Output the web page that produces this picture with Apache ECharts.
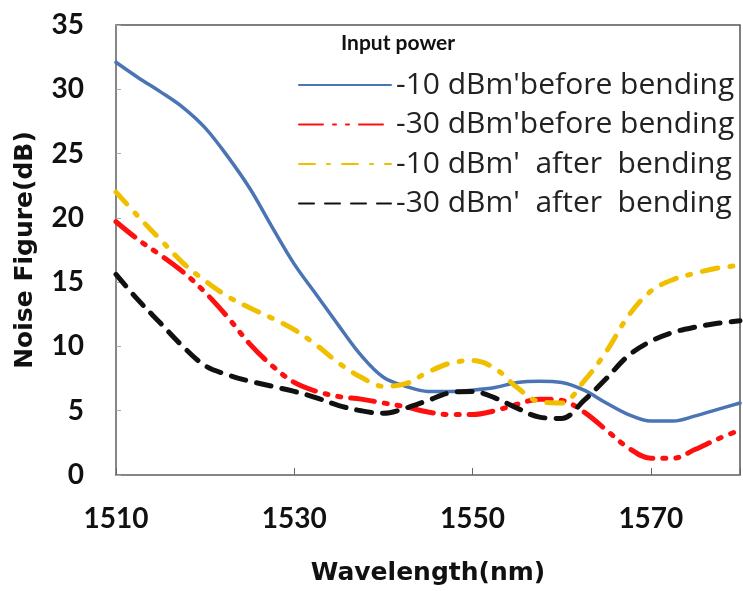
<!DOCTYPE html>
<html><head><meta charset="utf-8">
<script src="https://cdn.jsdelivr.net/npm/echarts@6/dist/echarts.min.js"></script>
<style>html,body{margin:0;padding:0;background:#fff}#c{width:743px;height:591px}</style>
</head><body><div id="c"></div>
<script>
var wavelengths = [1510,1512.5,1515,1517.5,1520,1522.5,1525,1527.5,1530,1532.5,1535,1537.5,1540,1542.5,1545,1547.5,1550,1552.5,1555,1557.5,1560,1562.5,1565,1567.5,1570,1572.5,1575,1577.5,1580];
var m10Before = [32.1,30.9,29.8,28.6,27.0,24.8,22.3,19.3,16.4,14.0,11.6,9.3,7.6,6.9,6.5,6.5,6.6,6.8,7.2,7.3,7.2,6.6,5.6,4.7,4.2,4.2,4.6,5.1,5.6];
var m30Before = [19.7,18.3,17.1,15.8,14.2,12.3,10.2,8.5,7.2,6.5,6.1,5.9,5.6,5.3,4.9,4.7,4.7,5.0,5.5,5.9,5.8,4.9,3.5,2.1,1.3,1.3,2.0,2.8,3.5];
var m10After = [22.0,20.1,18.3,16.5,15.1,13.9,13.0,12.2,11.3,10.1,8.7,7.6,6.9,7.1,8.0,8.7,8.9,8.3,6.8,5.7,5.6,7.3,9.6,12.4,14.3,15.2,15.7,16.1,16.3];
var m30After = [15.6,13.6,11.8,10.0,8.5,7.8,7.3,6.9,6.5,6.0,5.4,5.0,4.8,5.2,5.8,6.4,6.5,6.0,5.2,4.5,4.4,5.8,7.5,9.3,10.4,11.1,11.5,11.8,12.0];
var seriesNames = ["-10 dBm'before bending","-30 dBm'before bending","-10 dBm'  after  bending","-30 dBm'  after  bending"];
var legendTitle = "Input power";
var xTitle = "Wavelength(nm)";
var yTitle = "Noise Figure(dB)";

function pairs(v){ return wavelengths.map(function(x,i){ return [x, v[i]]; }); }
var chart = echarts.init(document.getElementById('c'), null, {renderer:'canvas'});
var styles = [
  {color:'#4a74b4', width:3.5, type:'solid'},
  {color:'#ff1010', width:5, type:[24,10,3,10,3,10]},
  {color:'#f0c000', width:5, type:[16,12,3,12]},
  {color:'#111111', width:5, type:[15,11]}
];
var data = [m10Before, m30Before, m10After, m30After];
chart.setOption({
  animation:false,
  backgroundColor:'#fff',
  title:{text:legendTitle, left:341, top:33, padding:0, textStyle:{fontFamily:'Lato', fontSize:21, fontWeight:'bold', color:'#111'}},
  legend:{
    orient:'vertical', left:298, top:70, itemWidth:92, itemHeight:14, itemGap:9.5, padding:0,
    data:seriesNames,
    itemStyle:{opacity:0, color:'rgba(0,0,0,0)', borderWidth:0},
    textStyle:{fontFamily:'Open Sans', fontSize:30, lineHeight:30, color:'#222'}
  },
  grid:{left:116, top:25, right:3, bottom:112, show:true, borderColor:'#555', borderWidth:1.5},
  xAxis:{
    type:'value', min:1510, max:1580, interval:20,
    name:xTitle, nameLocation:'middle', nameGap:86,
    nameTextStyle:{fontFamily:'DejaVu Sans', fontSize:25, fontWeight:'bold', color:'#111'},
    axisLine:{lineStyle:{color:'#888', width:1.5}},
    axisTick:{inside:true, length:7, lineStyle:{color:'#666'}},
    axisLabel:{fontFamily:'Lato', fontSize:28, fontWeight:'bold', color:'#111', margin:30,
      formatter:function(v){ return v===1580?'':String(v); }},
    splitLine:{show:false}
  },
  yAxis:{
    type:'value', min:0, max:35, interval:5,
    name:yTitle, nameLocation:'middle', nameGap:78, nameRotate:90,
    nameTextStyle:{fontFamily:'DejaVu Sans', fontSize:25, fontWeight:'bold', color:'#111'},
    axisLine:{show:true, lineStyle:{color:'#888', width:1.5}},
    axisTick:{show:true, inside:true, length:5, lineStyle:{color:'#aaa'}},
    axisLabel:{fontFamily:'Lato', fontSize:28, fontWeight:'bold', color:'#111', margin:32},
    splitLine:{show:false}
  },
  series:data.map(function(d,i){
    return {name:seriesNames[i], type:'line', data:pairs(d), smooth:0.35, symbol:'none',
      itemStyle:{color:styles[i].color},
      lineStyle:{color:styles[i].color, width:styles[i].width, type:styles[i].type, cap:'round'}};
  })
});
</script></body></html>
